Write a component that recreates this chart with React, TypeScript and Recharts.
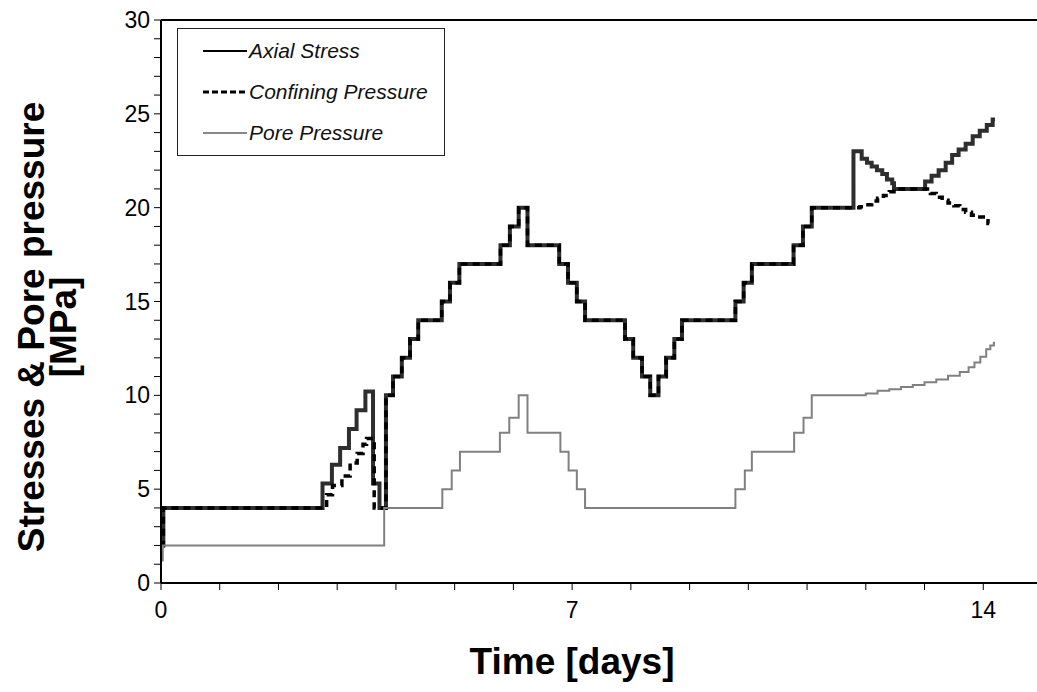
import React from 'react';
import { LineChart, Line, XAxis, YAxis, Legend, ReferenceLine } from 'recharts';

// [time (days), value (MPa)] — each value holds until the next time
const axialStress: [number, number][] = [
  [0, 2.0], [0.04, 4.0], [2.75, 5.3], [2.91, 6.3], [3.05, 7.2], [3.2, 8.2],
  [3.33, 9.2], [3.48, 10.2], [3.61, 5.3], [3.72, 4.0], [3.83, 10.0],
  [3.95, 11], [4.1, 12], [4.24, 13], [4.38, 14], [4.78, 15], [4.92, 16],
  [5.08, 17], [5.78, 18], [5.94, 19], [6.09, 20], [6.24, 18], [6.78, 17],
  [6.93, 16], [7.08, 15], [7.22, 14], [7.9, 13], [8.04, 12], [8.19, 11],
  [8.33, 10], [8.47, 11], [8.6, 12], [8.74, 13], [8.87, 14], [9.78, 15],
  [9.92, 16], [10.06, 17], [10.77, 18], [10.93, 19], [11.08, 20],
  [11.79, 23], [11.93, 22.6], [12.02, 22.4], [12.1, 22.2], [12.19, 22.0],
  [12.28, 21.8], [12.36, 21.5], [12.45, 21.3], [12.48, 21.0],
  [13.01, 21.4], [13.12, 21.7], [13.24, 22.0], [13.36, 22.4], [13.47, 22.8],
  [13.58, 23.1], [13.7, 23.4], [13.82, 23.8], [13.94, 24.1], [14.06, 24.4],
  [14.16, 24.7], [14.2, 24.7],
];

const confiningPressure: [number, number][] = [
  [0, 2.0], [0.04, 4.0], [2.82, 4.7], [2.92, 5.2], [3.08, 5.7], [3.22, 6.4],
  [3.34, 6.9], [3.44, 7.4], [3.5, 7.7], [3.63, 4.0], [3.83, 10.0],
  [3.95, 11], [4.1, 12], [4.24, 13], [4.38, 14], [4.78, 15], [4.92, 16],
  [5.08, 17], [5.78, 18], [5.94, 19], [6.09, 20], [6.24, 18], [6.78, 17],
  [6.93, 16], [7.08, 15], [7.22, 14], [7.9, 13], [8.04, 12], [8.19, 11],
  [8.33, 10], [8.47, 11], [8.6, 12], [8.74, 13], [8.87, 14], [9.78, 15],
  [9.92, 16], [10.06, 17], [10.77, 18], [10.93, 19], [11.08, 20],
  [11.9, 20.05], [12.0, 20.15], [12.1, 20.35], [12.2, 20.5], [12.3, 20.65],
  [12.4, 20.85], [12.48, 21.0], [13.1, 20.75], [13.2, 20.55], [13.3, 20.4],
  [13.4, 20.25], [13.5, 20.1], [13.6, 19.9], [13.7, 19.75], [13.8, 19.6],
  [13.9, 19.5], [14.0, 19.3], [14.08, 19.15], [14.1, 19.15],
];

const porePressure: [number, number][] = [
  [0, 1.2], [0.03, 2.0], [3.8, 4.0], [4.79, 5.0], [4.95, 6.0], [5.09, 7.0],
  [5.77, 8.0], [5.93, 8.8], [6.09, 10.0], [6.24, 8.0], [6.8, 7.0],
  [6.94, 6.0], [7.08, 5.0], [7.22, 4.0], [9.78, 5.0], [9.94, 6.0],
  [10.06, 7.0], [10.78, 8.0], [10.94, 8.8], [11.08, 10.0], [12.0, 10.1],
  [12.2, 10.25], [12.4, 10.33], [12.6, 10.45], [12.8, 10.55], [13.0, 10.7],
  [13.2, 10.85], [13.4, 11.05], [13.6, 11.25], [13.75, 11.5], [13.85, 11.75],
  [13.95, 12.05], [14.05, 12.45], [14.12, 12.65], [14.18, 12.8], [14.2, 12.8],
];

const xTicks = Array.from({ length: 16 }, (_, i) => i);
const yTicks = Array.from({ length: 31 }, (_, i) => i);
const xLabelled = [0, 7, 14];
const yLabelled = [0, 5, 10, 15, 20, 25, 30];

const toPoints = (rows: [number, number][]) => rows.map(([t, v]) => ({ t, v }));

const FONT = '"Liberation Sans", Arial, sans-serif';

const legendItems = [
  { name: 'Axial Stress', color: '#000', width: 2, dash: undefined as string | undefined },
  { name: 'Confining Pressure', color: '#000', width: 3, dash: '6 3' },
  { name: 'Pore Pressure', color: '#888', width: 2, dash: undefined },
];

function LegendBox() {
  return (
    <div
      style={{
        border: '1px solid #222',
        width: 268,
        height: 128,
        boxSizing: 'border-box',
        paddingTop: 1,
        fontFamily: FONT,
        fontStyle: 'italic',
        fontSize: 21,
        background: '#fff',
      }}
    >
      {legendItems.map((item) => (
        <div key={item.name} style={{ display: 'flex', alignItems: 'center', height: 41 }}>
          <svg width={46} height={10} style={{ marginLeft: 25 }}>
            <line
              x1={0}
              y1={5}
              x2={44}
              y2={5}
              stroke={item.color}
              strokeWidth={item.width}
              strokeDasharray={item.dash}
            />
          </svg>
          <span style={{ marginLeft: 0, color: '#111' }}>{item.name}</span>
        </div>
      ))}
    </div>
  );
}

function YTitle() {
  return (
    <text
      x={44}
      y={327}
      transform="rotate(-90, 44, 327)"
      textAnchor="middle"
      fontFamily={FONT}
      fontWeight="bold"
      fontSize={37}
      fill="#000"
    >
      <tspan x={44} dy={0}>Stresses &amp; Pore pressure</tspan>
      <tspan x={44} dy={32}>[MPa]</tspan>
    </text>
  );
}

function XTitle() {
  return (
    <text x={572} y={674} textAnchor="middle" fontFamily={FONT} fontWeight="bold" fontSize={37} fill="#000">
      Time [days]
    </text>
  );
}

export default function App() {
  return (
    <div style={{ position: 'fixed', left: 0, top: 0, width: 1037, height: 692, overflow: 'hidden', background: '#fff' }}>
      <LineChart width={1052} height={692} margin={{ top: 20, right: 10, bottom: 69, left: 0 }}>
        <XAxis
          type="number"
          dataKey="t"
          domain={[0, 15]}
          ticks={xTicks}
          interval={0}
          tickFormatter={(v: number) => (xLabelled.includes(v) ? String(v) : '')}
          tick={{ fill: '#000', fontSize: 23, fontFamily: FONT }}
          tickSize={7}
          tickMargin={12}
          tickLine={{ stroke: '#000', strokeWidth: 1 }}
          axisLine={{ stroke: '#000', strokeWidth: 2 }}
          height={40}
          allowDataOverflow
          label={<XTitle />}
        />
        <YAxis
          type="number"
          domain={[0, 30]}
          ticks={yTicks}
          interval={0}
          tickFormatter={(v: number) => (yLabelled.includes(v) ? String(v) : '')}
          tick={{ fill: '#000', fontSize: 23, fontFamily: FONT }}
          tickSize={7}
          tickMargin={4}
          tickLine={{ stroke: '#000', strokeWidth: 1 }}
          axisLine={{ stroke: '#000', strokeWidth: 2 }}
          width={161}
          label={<YTitle />}
        />
        <ReferenceLine y={30} stroke="#000" strokeWidth={2} />
        <Legend
          layout="vertical"
          verticalAlign="middle"
          align="center"
          wrapperStyle={{ position: 'absolute', left: 177, top: 28, width: 268 }}
          content={() => <LegendBox />}
        />
        <Line
          name="Axial Stress"
          data={toPoints(axialStress)}
          dataKey="v"
          type="stepAfter"
          stroke="#2e2e2e"
          strokeWidth={4}
          dot={false}
          isAnimationActive={false}
        />
        <Line
          name="Confining Pressure"
          data={toPoints(confiningPressure)}
          dataKey="v"
          type="stepAfter"
          stroke="#000"
          strokeWidth={3.5}
          strokeDasharray="7 5"
          dot={false}
          isAnimationActive={false}
        />
        <Line
          name="Pore Pressure"
          data={toPoints(porePressure)}
          dataKey="v"
          type="stepAfter"
          stroke="#808080"
          strokeWidth={2}
          dot={false}
          isAnimationActive={false}
        />
      </LineChart>
    </div>
  );
}
